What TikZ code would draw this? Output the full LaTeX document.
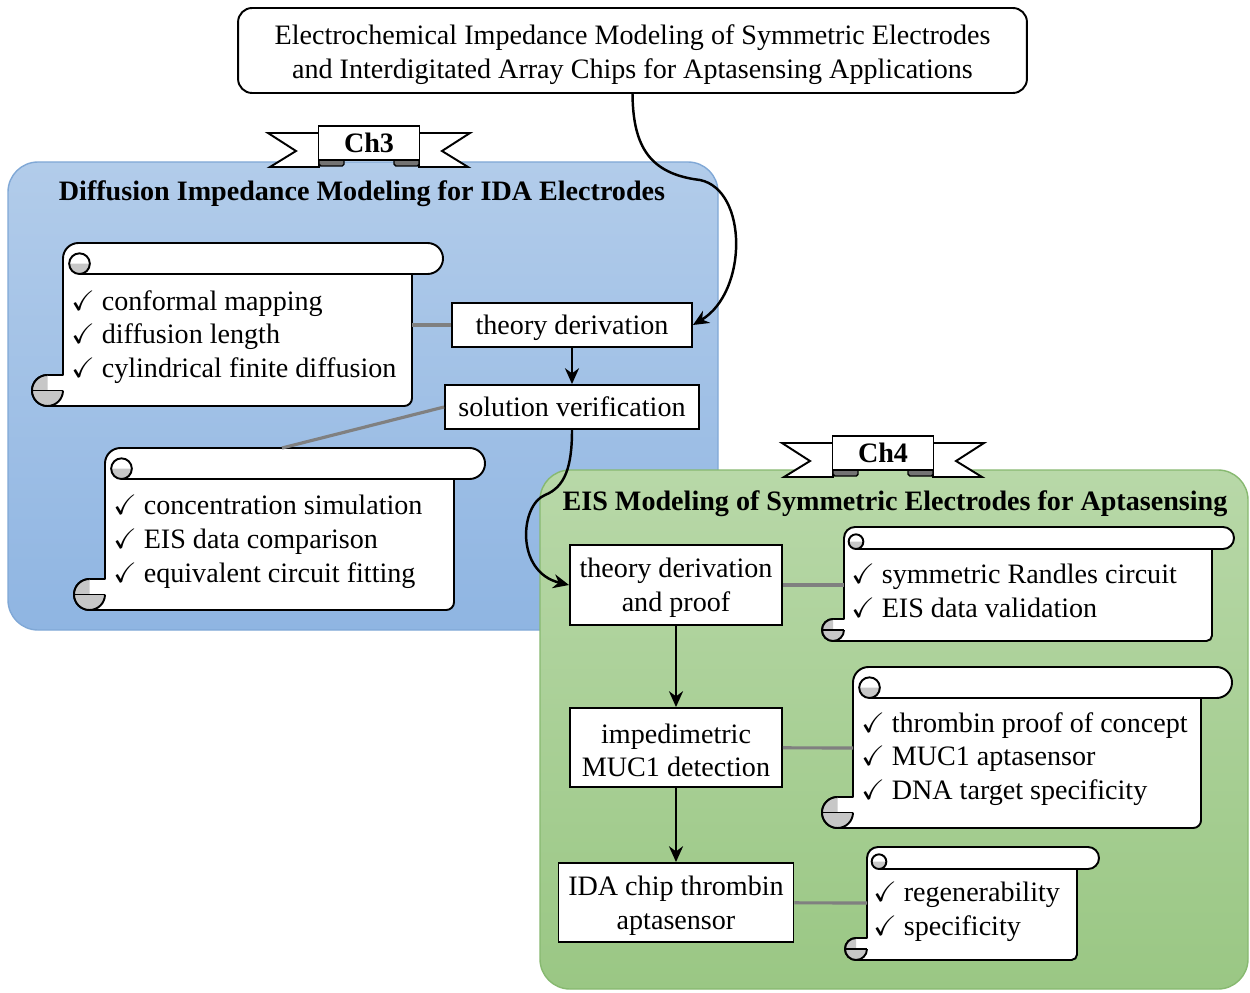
\documentclass[tikz,border=0pt]{standalone}
\usepackage{amssymb}
\usepackage{fontspec}
\setmainfont{Liberation Serif}
\usepackage{tikz}
\usetikzlibrary{arrows.meta,positioning,calc}

\definecolor{bluetop}{RGB}{178,204,234}
\definecolor{bluebot}{RGB}{143,181,226}
\definecolor{blueedge}{RGB}{128,168,214}
\definecolor{greentop}{RGB}{184,216,168}
\definecolor{greenbot}{RGB}{154,199,132}
\definecolor{greenedge}{RGB}{135,185,112}

\newcommand{\bodyfont}{\fontsize{16}{19.2}\selectfont}

\tikzset{
  chapterarea/.style={rounded corners=0.6cm, line width=0.8pt},
  stepbox/.style={draw, fill=white, line width=1.1pt, inner sep=2pt, align=center, text height=14.5pt},
  twoline/.style={text height=33.7pt},
  titlebox/.style={draw, fill=white, line width=1.1pt, rounded corners=8pt, align=center,
    minimum width=15.78cm, minimum height=1.7cm, text height=34.8pt},
  heading/.style={font=\bodyfont\bfseries},
  chbox/.style={draw, fill=white, line width=1.1pt, minimum width=2.02cm, minimum height=0.68cm,
    inner sep=0pt, font=\bodyfont\bfseries},
  bannerline/.style={line width=1.1pt, line join=miter},
  scrollline/.style={line width=1.1pt, line join=round},
  rollgray/.style={fill=black!22},
  listtext/.style={align=left, inner sep=0pt, anchor=west},
  feed/.style={draw=black!50, line width=1.8pt},
  flow/.style={->, line width=1.4pt}
}

% scroll: left, top, right, bottom, roll size
\newcommand{\scrollshape}[5]{%
  \pgfmathsetmacro{\scrh}{#5/2}%
  \pgfmathsetmacro{\scrq}{#5/4}%
  \pgfmathsetmacro{\scrc}{#5/3}%
  \draw[scrollline, fill=white]
    ({#1+\scrh},{#4+#5}) -- ({#1+#5},{#4+#5}) -- ({#1+#5},{#2-\scrh})
    arc[start angle=180, end angle=90, radius=\scrh] -- ({#3-\scrh},#2)
    arc[start angle=90, end angle=-90, radius=\scrh] -- ({#3-#5},{#2-#5})
    -- ({#3-#5},{#4+\scrq}) arc[start angle=0, end angle=-90, radius=\scrq]
    -- ({#1+\scrh},#4) arc[start angle=270, end angle=90, radius=\scrh] -- cycle;
  \draw[scrollline] ({#1+#5+\scrh},{#2-#5}) -- ({#3-#5},{#2-#5});
  % top curl
  \fill[rollgray] ({#1+#5+\scrh+1-\scrc},{#2-#5+\scrc}) arc[start angle=180, end angle=360, radius=\scrc] -- cycle;
  \draw[scrollline] ({#1+#5+\scrh+1},{#2-#5+\scrc}) circle[radius=\scrc];
  % bottom roll
  \fill[rollgray] ({#1+\scrh},{#4+\scrh}) -- ++(0,\scrh) arc[start angle=90, end angle=360, radius=\scrh] -- cycle;
  \draw[scrollline] ({#1+\scrh},{#4+#5}) arc[start angle=90, end angle=360, radius=\scrh];
  \draw[scrollline] (#1,{#4+\scrh}) -- ({#1+#5},{#4+\scrh});
}

% chapter banner: name, centre x, top y, label
\newcommand{\chbanner}[4]{%
  \foreach \s in {-1,1} {
    \draw[bannerline, fill=white] ({#2+\s*50},{#3-8}) -- ({#2+\s*101},{#3-8}) -- ({#2+\s*73},{#3-26})
      -- ({#2+\s*99},{#3-42}) -- ({#2+\s*50},{#3-42}) -- cycle;
    \draw[line width=0.8pt, fill=black!55, rounded corners=1pt] ({#2+\s*50},{#3-33}) rectangle ({#2+\s*25},{#3-41});
  }
  \node[chbox] (#1) at (#2,{#3-18}) {#4};
}

\begin{document}
\begin{tikzpicture}[x=0.02cm, y=0.02cm, >={Stealth[length=9pt,width=8pt]}, font=\bodyfont]
  \useasboundingbox (0,0) rectangle (1250,992);

  % chapter areas
  \draw[chapterarea, draw=blueedge, top color=bluetop, bottom color=bluebot] (8,362) rectangle (718,830);
  \draw[chapterarea, draw=greenedge, top color=greentop, bottom color=greenbot] (540,3) rectangle (1248,522);

  % thesis title
  \node[titlebox] (title) at (632.5,941.5) {Electrochemical Impedance Modeling of Symmetric Electrodes\\and Interdigitated Array Chips for Aptasensing Applications};

  % chapter 3
  \chbanner{ch3}{369}{867}{Ch3}
  \node[heading] (h3) at (362,798) {Diffusion Impedance Modeling for IDA Electrodes};
  \node[stepbox, minimum width=4.8cm, minimum height=0.88cm] (td) at (572,667) {theory derivation};
  \node[stepbox, text height=11pt, minimum width=5.08cm, minimum height=0.88cm] (sv) at (572,585) {solution verification};

  \scrollshape{32}{749}{443}{586}{31}
  \node[listtext] (l1) at (71,655) {\checkmark\ conformal mapping\\\checkmark\ diffusion length\\\checkmark\ cylindrical finite diffusion};
  \scrollshape{74}{544}{485}{382}{31}
  \node[listtext] (l2) at (113,450) {\checkmark\ concentration simulation\\\checkmark\ EIS data comparison\\\checkmark\ equivalent circuit fitting};
  \coordinate (s1r) at (412,667);
  \coordinate (s2t) at (282,544);

  % chapter 4
  \chbanner{ch4}{883}{557}{Ch4}
  \node[heading] (h4) at (895,488) {EIS Modeling of Symmetric Electrodes for Aptasensing};
  \node[stepbox, twoline, minimum width=4.24cm, minimum height=1.6cm] (tdp) at (676,407) {theory derivation\\and proof};
  \node[stepbox, twoline, minimum width=4.24cm, minimum height=1.58cm] (imp) at (676,244.5) {impedimetric\\MUC1 detection};
  \node[stepbox, twoline, minimum width=4.7cm, minimum height=1.58cm] (ida) at (676,89.5) {IDA chip thrombin\\aptasensor};

  \scrollshape{822}{465}{1234}{351}{22}
  \node[listtext] (l3) at (851,401) {\checkmark\ symmetric Randles circuit\\\checkmark\ EIS data validation};
  \scrollshape{822}{325}{1232}{164}{31}
  \node[listtext] (l4) at (861,233) {\checkmark\ thrombin proof of concept\\\checkmark\ MUC1 aptasensor\\\checkmark\ DNA target specificity};
  \scrollshape{845}{145}{1099}{32}{22}
  \node[listtext] (l5) at (873,80) {\checkmark\ regenerability\\\checkmark\ specificity};
  \coordinate (s3l) at (844,407);
  \coordinate (s4l) at (853,244);
  \coordinate (s5l) at (867,89);

  % side links
  \draw[feed] (s1r) -- (td);
  \draw[feed] (sv.west) -- (s2t);
  \draw[feed] (tdp) -- (s3l);
  \draw[feed] (imp) -- (s4l);
  \draw[feed] (ida) -- (s5l);

  % flow
  \draw[flow] (title.south) .. controls (633,845) and (650,818) .. (700,812)
    .. controls (748,802) and (748,700) .. (td.east);
  \draw[flow] (td) -- (sv);
  \draw[flow] (sv.south) .. controls (572,525) and (565,505) .. (545,497)
    .. controls (520,487) and (515,420) .. (tdp.west);
  \draw[flow] (tdp) -- (imp);
  \draw[flow] (imp) -- (ida);
\end{tikzpicture}
\end{document}
